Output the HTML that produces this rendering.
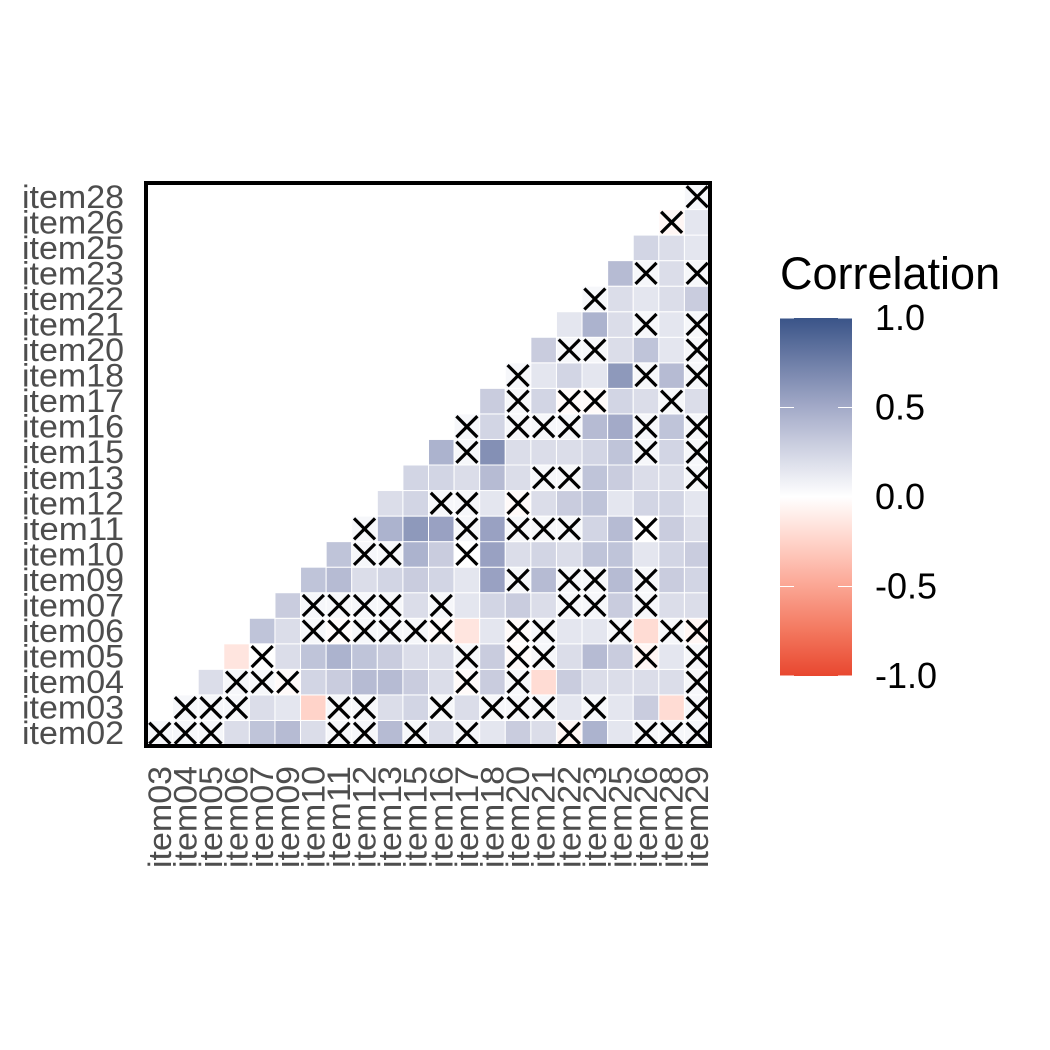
<!DOCTYPE html>
<html><head><meta charset="utf-8"><style>
body{margin:0;background:#fff;}
svg{display:block;font-family:"Liberation Sans",sans-serif;}
</style></head><body>
<svg id="chart" width="1050" height="1050" viewBox="0 0 1050 1050" xmlns="http://www.w3.org/2000/svg">
<defs>
<linearGradient id="grad" x1="0" y1="0" x2="0" y2="1">
<stop offset="0" stop-color="#3A5488"/><stop offset="0.125" stop-color="#6F7FA8"/><stop offset="0.25" stop-color="#A3AAC8"/><stop offset="0.375" stop-color="#D2D5E4"/><stop offset="0.5" stop-color="#FFFFFF"/><stop offset="0.625" stop-color="#FFD3C9"/><stop offset="0.75" stop-color="#FBA593"/><stop offset="0.875" stop-color="#F3775E"/><stop offset="1" stop-color="#E8472F"/>
</linearGradient>
</defs>
<g id="cells"></g>
<rect x="146" y="183" width="564" height="563" fill="none" stroke="#000" stroke-width="4"/>
<g id="labels"></g>
<text x="780" y="289" font-size="45" fill="#000">Correlation</text>
<rect x="780" y="318" width="72" height="358" fill="url(#grad)"/>
<g id="legend"></g>
</svg>
<script>
const xLabels=["item03","item04","item05","item06","item07","item09","item10","item11","item12","item13","item15","item16","item17","item18","item20","item21","item22","item23","item25","item26","item28","item29"];
const yLabels=["item02","item03","item04","item05","item06","item07","item09","item10","item11","item12","item13","item15","item16","item17","item18","item20","item21","item22","item23","item25","item26","item28"];
const rows=[
[0.05,0.05,0.05,0.2,0.35,0.4,0.2,0.05,0.05,0.4,0.05,0.2,0.05,0.15,0.3,0.2,-0.05,0.45,0.15,0.05,0.05,0.05],
[0.05,0.05,0.05,0.2,0.15,-0.25,0.05,0.05,0.2,0.25,0.05,0.2,0.05,0.05,0.05,0.15,0.05,0.15,0.3,-0.2,0.05],
[0.2,0.05,0.05,-0.03,0.25,0.3,0.4,0.4,0.3,0.2,-0.03,0.3,0.05,-0.2,0.3,0.2,0.2,0.2,0.2,0.05],
[-0.15,0.0,0.2,0.35,0.45,0.35,0.3,0.2,0.2,0.05,0.3,-0.03,0.05,0.2,0.4,0.3,-0.05,0.15,0.05],
[0.35,0.2,0.05,-0.02,0.05,0.05,0.05,-0.03,-0.15,0.15,-0.03,0.05,0.15,0.15,0.05,-0.2,0.05,-0.05],
[0.3,0.05,0.05,0.05,0.05,0.2,0.05,0.15,0.25,0.3,0.2,0.05,0.05,0.3,0.05,0.2,0.2],
[0.35,0.4,0.2,0.25,0.3,0.25,0.15,0.55,0.05,0.4,0.05,0.05,0.4,0.05,0.3,0.25],
[0.35,0.05,0.05,0.45,0.3,0.0,0.55,0.2,0.25,0.2,0.35,0.35,0.15,0.25,0.3],
[0.05,0.45,0.6,0.55,0.05,0.55,0.05,0.05,0.05,0.25,0.4,0.0,0.3,0.2],
[0.2,0.25,0.05,0.05,0.15,-0.03,0.2,0.3,0.35,0.15,0.25,0.25,0.15],
[0.25,0.25,0.2,0.4,0.2,0.05,0.05,0.35,0.3,0.2,0.2,0.05],
[0.45,0.05,0.65,0.2,0.2,0.2,0.25,0.35,0.05,0.25,0.05],
[0.05,0.25,0.05,0.05,0.05,0.4,0.5,0.05,0.35,0.05],
[0.3,0.05,0.25,-0.03,-0.03,0.25,0.2,0.05,0.2],
[0.05,0.15,0.25,0.15,0.6,0.05,0.4,0.05],
[0.3,0.05,0.05,0.2,0.35,0.15,0.05],
[0.15,0.45,0.2,0.05,0.15,0.05],
[0.05,0.2,0.15,0.2,0.3],
[0.4,0.05,0.2,0.05],
[0.25,0.2,0.15],
[-0.05,0.15],
[0.05]
];
const insig=[
[1,1,1,0,0,0,0,1,1,0,1,0,1,0,0,0,1,0,0,1,1,1],
[1,1,1,0,0,0,1,1,0,0,1,0,1,1,1,0,1,0,0,0,1],
[0,1,1,1,0,0,0,0,0,0,1,0,1,0,0,0,0,0,0,1],
[0,1,0,0,0,0,0,0,0,1,0,1,1,0,0,0,1,0,1],
[0,0,1,1,1,1,1,1,0,0,1,1,0,0,1,0,1,1],
[0,1,1,1,1,0,1,0,0,0,0,1,1,0,1,0,0],
[0,0,0,0,0,0,0,0,1,0,1,1,0,1,0,0],
[0,1,1,0,0,1,0,0,0,0,0,0,0,0,0],
[1,0,0,0,1,0,1,1,1,0,0,1,0,0],
[0,0,1,1,0,1,0,0,0,0,0,0,0],
[0,0,0,0,0,1,1,0,0,0,0,1],
[0,1,0,0,0,0,0,0,1,0,1],
[1,0,1,1,1,0,0,1,0,1],
[0,1,0,1,1,0,0,1,0],
[1,0,0,0,0,1,0,1],
[0,1,1,0,0,0,1],
[0,0,0,1,0,1],
[1,0,0,0,0],
[0,1,0,1],
[0,0,0],
[1,0],
[1]
];
const legendTicks=[1.0,0.5,0.0,-0.5,-1.0];
const legendTickLabels=["1.0","0.5","0.0","-0.5","-1.0"];

const NS="http://www.w3.org/2000/svg";
const X0=147,Y1=746,CW=(710-147)/22,CH=(746-184)/22;
const xs=j=>X0+j*CW, ys=r=>Y1-(r+1)*CH;
const stops=[[-1,[232,71,47]],[-0.75,[243,119,94]],[-0.5,[251,165,147]],[-0.25,[255,211,201]],[0,[255,255,255]],[0.25,[210,213,228]],[0.5,[163,170,200]],[0.75,[111,127,168]],[1,[58,84,136]]];
function col(v){v=Math.max(-1,Math.min(1,v));for(let i=0;i<stops.length-1;i++){const a=stops[i],b=stops[i+1];if(v<=b[0]){const t=(v-a[0])/(b[0]-a[0]);return"rgb("+a[1].map((c,k)=>Math.round(c+(b[1][k]-c)*t)).join(",")+")";}}return"rgb(58,84,136)";}
const cells=document.getElementById('cells');
rows.forEach((vals,r)=>{vals.forEach((v,k)=>{const j=r+k;
const rc=document.createElementNS(NS,'rect');
rc.setAttribute('x',xs(j));rc.setAttribute('y',ys(r));rc.setAttribute('width',CW);rc.setAttribute('height',CH);
rc.setAttribute('fill',col(v));rc.setAttribute('stroke','#fff');rc.setAttribute('stroke-width','1');


cells.appendChild(rc);
if(insig[r][k]){const cx=xs(j)+CW/2,cy=ys(r)+CH/2,h=10.5;
const g=document.createElementNS(NS,'path');
g.setAttribute('d',`M${cx-h} ${cy-h}L${cx+h} ${cy+h}M${cx+h} ${cy-h}L${cx-h} ${cy+h}`);
g.setAttribute('stroke','#000');g.setAttribute('stroke-width','3.2');


cells.appendChild(g);}
});});
const lab=document.getElementById('labels');
yLabels.forEach((t,r)=>{const e=document.createElementNS(NS,'text');
e.setAttribute('x',124);e.setAttribute('y',ys(r)+CH/2+11);e.setAttribute('text-anchor','end');e.setAttribute('font-size','32');e.setAttribute('fill','#4D4D4D');e.setAttribute('textLength','102');e.setAttribute('lengthAdjust','spacingAndGlyphs');e.textContent=t;


lab.appendChild(e);});
xLabels.forEach((t,j)=>{const e=document.createElementNS(NS,'text');const cx=xs(j)+CW/2+11;
e.setAttribute('transform',`translate(${cx},766) rotate(-90)`);e.setAttribute('text-anchor','end');e.setAttribute('font-size','32');e.setAttribute('fill','#4D4D4D');e.setAttribute('textLength','102');e.setAttribute('lengthAdjust','spacingAndGlyphs');e.textContent=t;


lab.appendChild(e);});
const lg=document.getElementById('legend');
legendTicks.forEach((v,i)=>{const y=318+(1-v)/2*358;
[[780,794],[838,852]].forEach(p=>{const l=document.createElementNS(NS,'line');l.setAttribute('x1',p[0]);l.setAttribute('x2',p[1]);l.setAttribute('y1',y);l.setAttribute('y2',y);l.setAttribute('stroke','#fff');l.setAttribute('stroke-width','1');


lg.appendChild(l);});
const e=document.createElementNS(NS,'text');e.setAttribute('x',875);e.setAttribute('y',y+12);e.setAttribute('font-size','36');e.setAttribute('fill','#000');e.textContent=legendTickLabels[i];


lg.appendChild(e);});
</script>
</body></html>
